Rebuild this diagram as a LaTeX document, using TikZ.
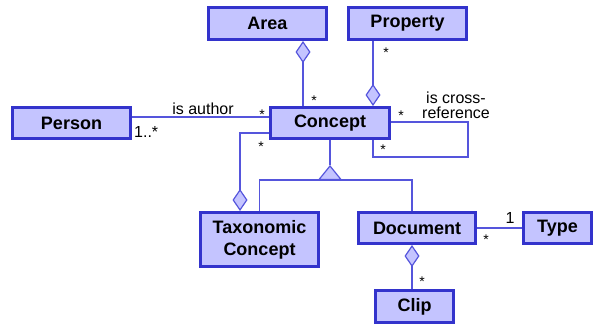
\documentclass[tikz,border=0pt]{standalone}
\usepackage{fontspec}
\setmainfont{Liberation Sans}
\usetikzlibrary{arrows.meta}
\definecolor{boxfill}{RGB}{196,196,255}
\definecolor{boxline}{RGB}{51,51,204}
\definecolor{conline}{RGB}{85,85,220}
\tikzset{
  cls/.style={draw=boxline, fill=boxfill, line width=3pt, inner sep=0pt,
    font=\fontsize{18}{22}\selectfont\bfseries, align=center},
  con/.style={draw=conline, line width=1.2pt},
  agg/.style={con, -{Diamond[length=22pt,width=15pt,fill=boxfill,line width=1.2pt]}},
  gen/.style={con, -{Triangle[length=15pt,width=24pt,fill=boxfill,line width=1.2pt]}},
  mult/.style={font=\fontsize{14}{14}\selectfont, anchor=base, inner sep=0pt},
  lbl/.style={font=\fontsize{16}{15}\selectfont, anchor=base, inner sep=0pt, align=center}
}
\begin{document}
\begin{tikzpicture}[x=1pt,y=-1pt]
\useasboundingbox (0,0) rectangle (594,326);
% classes
\node[cls, minimum width=118pt, minimum height=32pt] (area) at (267.5,23.5) {Area};
\node[cls, minimum width=118pt, minimum height=32pt] (property) at (407.5,23.5) {Property};
\node[cls, minimum width=118pt, minimum height=31pt] (person) at (71.5,123) {Person};
\node[cls, minimum width=119pt, minimum height=31pt] (concept) at (330,123) {Concept};
\node[cls, minimum width=118pt, minimum height=54pt] (taxonomic) at (259.5,239.5) {Taxonomic\\Concept};
\node[cls, minimum width=117pt, minimum height=31pt] (document) at (417,228) {Document};
\node[cls, minimum width=68pt, minimum height=31pt] (type) at (557.5,228) {Type};
\node[cls, minimum width=78pt, minimum height=32pt] (clip) at (414.5,306.5) {Clip};
% helper coordinates
\coordinate (gj) at (330,180);
\coordinate (apex) at (330,165);
\coordinate (loopc) at (468,157);
% connectors
\draw[agg] ([xshift=-27pt]concept.north) -- ([xshift=35.5pt]area.south);
\draw[agg] ([xshift=-34.5pt]property.south) -- ([xshift=43pt]concept.north);
\draw[con] ([yshift=6pt]person.east) -- ([yshift=6pt]concept.west);
\draw[agg] ([yshift=-10pt]concept.west) -| ([xshift=-19.5pt]taxonomic.north);
\draw[con] (taxonomic.north) |- (gj);
\draw[con] ([xshift=-5pt]document.north) |- (gj);
\draw[gen] (gj) -- (apex);
\draw[con] (apex) -- (concept.south);
\draw[con] ([yshift=1pt]concept.east) -| (loopc) -| ([xshift=43pt]concept.south);
\draw[con] (document.east) -- (type.west);
\draw[agg] ([xshift=-2.5pt]clip.north) -- ([xshift=-5pt]document.south);
% labels
\node[mult] (m1) at (314,106) {*};
\node[mult] (m2) at (386,58) {*};
\node[lbl] (l1) at (203,115) {is author};
\node[mult] (m3) at (262,120) {*};
\node[lbl, anchor=base west] (l2) at (134,137) {1..*};
\node[mult] (m4) at (261,151) {*};
\node[mult] (m5) at (401,121) {*};
\node[mult] (m6) at (383,154) {*};
\node[lbl] (l3) at (456,119) {is cross-\\reference};
\node[lbl] (l5) at (510,223) {1};
\node[mult] (m7) at (486,244) {*};
\node[mult] (m8) at (422,286) {*};
\end{tikzpicture}
\end{document}
